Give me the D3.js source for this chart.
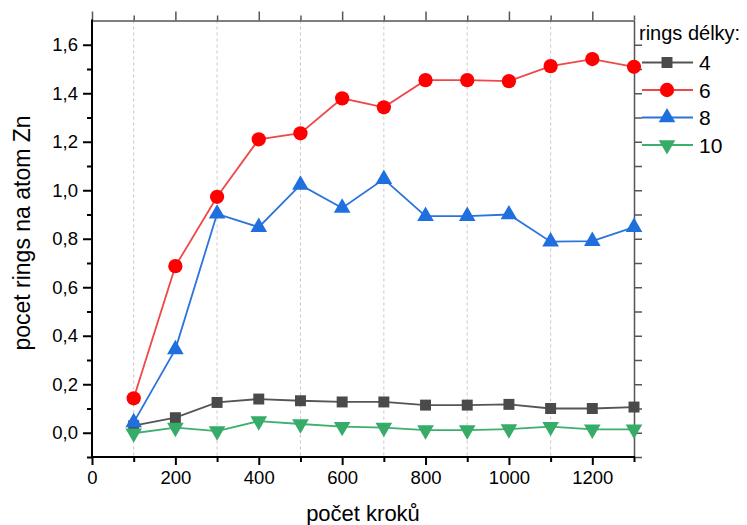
<!DOCTYPE html>
<html>
<head>
<meta charset="utf-8">
<script src="https://cdn.jsdelivr.net/npm/d3@7"></script>
<style>
  body { margin: 0; background: #fff; }
  text { font-family: "Liberation Sans", Arial, sans-serif; }
</style>
</head>
<body>
<svg id="chart" width="747" height="525"></svg>
<script>
// data
const steps = [100, 200, 300, 400, 500, 600, 700, 800, 900, 1000, 1100, 1200, 1300];
const rings4 = [0.029, 0.062, 0.125, 0.139, 0.132, 0.127, 0.127, 0.114, 0.114, 0.117, 0.100, 0.100, 0.106];
const rings6 = [0.142, 0.687, 0.973, 1.210, 1.235, 1.379, 1.342, 1.454, 1.454, 1.450, 1.512, 1.541, 1.509];
const rings8 = [0.043, 0.344, 0.903, 0.848, 1.022, 0.927, 1.046, 0.893, 0.893, 0.900, 0.788, 0.790, 0.848];
const rings10 = [-0.002, 0.021, 0.007, 0.048, 0.036, 0.025, 0.021, 0.011, 0.011, 0.015, 0.025, 0.014, 0.014];
const seriesNames = ['4', '6', '8', '10'];

const xMajor = [0, 200, 400, 600, 800, 1000, 1200];
const xMinor = [100, 300, 500, 700, 900, 1100, 1300];
const xGrid = [100, 300, 500, 700, 900, 1100];
const yMajor = [0, 0.2, 0.4, 0.6, 0.8, 1.0, 1.2, 1.4, 1.6];
const yMinor = [-0.1, 0.1, 0.3, 0.5, 0.7, 0.9, 1.1, 1.3, 1.5];

const plotLeft = 92, plotRight = 634, plotTop = 20.5, plotBottom = 457;

const x = d3.scaleLinear().domain([0, 1300]).range([plotLeft, plotRight]);
const y = d3.scaleLinear().domain([-0.1, 1.7]).range([plotBottom, plotTop]);

const svg = d3.select('#chart');

const series = [
  {name: seriesNames[0], values: rings4, line: '#555555', fill: '#4a4a4a', sym: d3.symbolSquare, size: 120},
  {name: seriesNames[1], values: rings6, line: '#f04848', fill: '#ff0000', sym: d3.symbolCircle, size: 160},
  {name: seriesNames[2], values: rings8, line: '#2a74dc', fill: '#1f6fde', sym: d3.symbolTriangle, size: 120},
  {name: seriesNames[3], values: rings10, line: '#3db06e', fill: '#37ab68', sym: d3.symbolTriangle, size: 120, flip: true}
];

// dashed grid
svg.append('g')
  .selectAll('line')
  .data(xGrid)
  .enter().append('line')
  .attr('x1', d => x(d)).attr('x2', d => x(d))
  .attr('y1', plotTop).attr('y2', plotBottom)
  .attr('stroke', '#c8c8c8')
  .attr('stroke-width', 1)
  .attr('stroke-dasharray', '3,3');

function styleAxis(g, color, width) {
  g.select('.domain').attr('stroke', color).attr('stroke-width', width);
  g.selectAll('.tick line').attr('stroke', color).attr('stroke-width', width);
}

// top + right axes (grey, ticks out, no labels)
svg.append('g')
  .attr('transform', 'translate(0,' + plotTop + ')')
  .call(d3.axisTop(x).tickValues(xMajor).tickSize(9).tickSizeOuter(0).tickFormat(''))
  .call(g => styleAxis(g, '#555', 1.5));
svg.append('g')
  .attr('transform', 'translate(0,' + plotTop + ')')
  .call(d3.axisTop(x).tickValues(xMinor).tickSize(5).tickSizeOuter(0).tickFormat(''))
  .call(g => { g.select('.domain').remove(); styleAxis(g, '#555', 1.5); });

svg.append('g')
  .attr('transform', 'translate(' + plotRight + ',0)')
  .call(d3.axisRight(y).tickValues(yMajor).tickSize(8).tickSizeOuter(0).tickFormat(''))
  .call(g => styleAxis(g, '#555', 1.5));
svg.append('g')
  .attr('transform', 'translate(' + plotRight + ',0)')
  .call(d3.axisRight(y).tickValues(yMinor).tickSize(8).tickSizeOuter(0).tickFormat(''))
  .call(g => { g.select('.domain').remove(); styleAxis(g, '#555', 1.5); });

// bottom axis
const fmtX = d3.format('d');
svg.append('g')
  .attr('transform', 'translate(0,' + plotBottom + ')')
  .call(d3.axisBottom(x).tickValues(xMinor).tickSize(5).tickSizeOuter(0).tickFormat(''))
  .call(g => { g.select('.domain').remove(); styleAxis(g, '#000', 2); });
svg.append('g')
  .attr('transform', 'translate(0,' + plotBottom + ')')
  .call(d3.axisBottom(x).tickValues(xMajor).tickSize(8).tickSizeOuter(0).tickPadding(6).tickFormat(fmtX))
  .call(g => {
    styleAxis(g, '#000', 2);
    g.select('.domain').attr('d', 'M' + (plotLeft - 1) + ',0H' + (plotRight + 1));
    g.selectAll('.tick text').attr('font-size', 18.5).attr('fill', '#000')
      .attr('font-family', '"Liberation Sans", Arial, sans-serif');
  });

// left axis
const fmtY = d => d3.format('.1f')(d).replace('.', ',');
svg.append('g')
  .attr('transform', 'translate(' + plotLeft + ',0)')
  .call(d3.axisLeft(y).tickValues(yMinor).tickSize(5).tickSizeOuter(0).tickFormat(''))
  .call(g => { g.select('.domain').remove(); styleAxis(g, '#000', 2); });
svg.append('g')
  .attr('transform', 'translate(' + plotLeft + ',0)')
  .call(d3.axisLeft(y).tickValues(yMajor).tickSize(9).tickSizeOuter(0).tickPadding(5).tickFormat(fmtY))
  .call(g => {
    styleAxis(g, '#000', 2);
    g.select('.domain').attr('d', 'M0,' + (plotTop - 1) + 'V' + (plotBottom + 1));
    g.selectAll('.tick text').attr('font-size', 18.5).attr('fill', '#000')
      .attr('font-family', '"Liberation Sans", Arial, sans-serif');
  });

// series lines and markers
const line = d3.line().x(d => x(d[0])).y(d => y(d[1]));

series.forEach(s => {
  const pts = steps.map((t, i) => [t, s.values[i]]);
  svg.append('path')
    .attr('d', line(pts))
    .attr('fill', 'none')
    .attr('stroke', s.line)
    .attr('stroke-width', 1.8);
  svg.append('g')
    .selectAll('path')
    .data(pts)
    .enter().append('path')
    .attr('d', d3.symbol().type(s.sym).size(s.size))
    .attr('transform', d => 'translate(' + x(d[0]) + ',' + y(d[1]) + ')' + (s.flip ? ' rotate(180)' : ''))
    .attr('fill', s.fill);
});

// axis titles
svg.append('text')
  .attr('x', 363).attr('y', 521)
  .attr('text-anchor', 'middle')
  .attr('font-size', 22)
  .text('počet kroků');

svg.append('text')
  .attr('transform', 'translate(30,233) rotate(-90)')
  .attr('text-anchor', 'middle')
  .attr('font-size', 23)
  .text('pocet rings na atom Zn');

// legend
const legend = svg.append('g').attr('transform', 'translate(639,0)');
legend.append('text')
  .attr('x', 0).attr('y', 40)
  .attr('font-size', 20)
  .text('rings délky:');

series.forEach((s, i) => {
  const ly = 62.5 + i * 27.5;
  legend.append('line')
    .attr('x1', 3).attr('x2', 54)
    .attr('y1', ly).attr('y2', ly)
    .attr('stroke', s.line).attr('stroke-width', 1.8);
  legend.append('path')
    .attr('d', d3.symbol().type(s.sym).size(s.size))
    .attr('transform', 'translate(28,' + ly + ')' + (s.flip ? ' rotate(180)' : ''))
    .attr('fill', s.fill);
  legend.append('text')
    .attr('x', 60).attr('y', ly + 7.5)
    .attr('font-size', 21)
    .text(s.name);
});
</script>
</body>
</html>
